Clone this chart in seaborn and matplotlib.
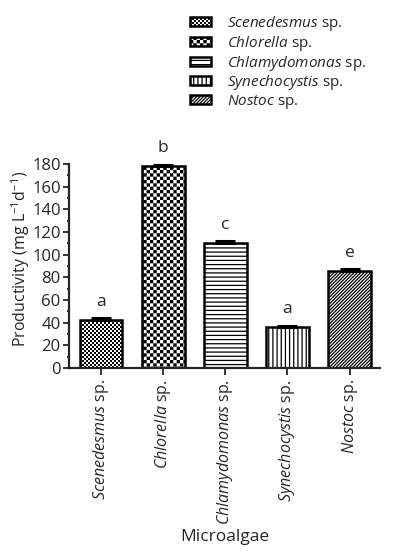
import numpy as np
import pandas as pd
import matplotlib
matplotlib.use("Agg")
import matplotlib as mpl
import matplotlib.pyplot as plt
import matplotlib.patches as mpatches
import matplotlib.hatch as mhatch
from matplotlib.path import Path
import seaborn as sns

# ---------------- data ----------------
species = ["Scenedesmus", "Chlorella", "Chlamydomonas", "Synechocystis", "Nostoc"]
productivity = [42.5, 178.5, 110.0, 36.0, 86.0]
errors = [1.5, 1.0, 1.8, 1.5, 1.2]
letters = ["a", "b", "c", "a", "e"]
hatches = ["o", "O", "----", "||||", "//////////"]

# ------------- custom checkerboard hatch -------------
class Checker(mhatch.HatchPatternBase):
    def __init__(self, hatch, density):
        self.n = 0
        if "o" in hatch:
            self.n = 50
        elif "O" in hatch:
            self.n = 30
        self.num_vertices = (self.n * self.n // 2) * 5 if self.n else 0

    def set_vertices_and_codes(self, vertices, codes):
        n = self.n
        s = 1.0 / n
        sh = mpl.rcParams["hatch.linewidth"] / 72.0 / 2.0
        verts = []
        for i in range(n):
            for j in range(n):
                if (i + j) % 2 == 0:
                    x0, y0 = i * s + sh, j * s + sh
                    x1, y1 = (i + 1) * s - sh, (j + 1) * s - sh
                    verts += [(x0, y0), (x1, y0), (x1, y1), (x0, y1), (x0, y0)]
        vertices[:] = np.array(verts)
        codes[:] = [Path.MOVETO, Path.LINETO, Path.LINETO, Path.LINETO,
                    Path.CLOSEPOLY] * (n * n // 2)

mhatch._hatch_types = [c for c in mhatch._hatch_types
                       if c not in (mhatch.SmallCircles, mhatch.LargeCircles,
                                    mhatch.SmallFilledCircles, mhatch.Stars)] + [Checker]

# ---------------- style ----------------
sns.set_style("ticks")
FONT = "Open Sans"
plt.rcParams["font.family"] = [FONT, "DejaVu Sans"]
plt.rcParams["mathtext.fontset"] = "custom"
plt.rcParams["mathtext.rm"] = FONT
plt.rcParams["mathtext.it"] = FONT + ":italic"
plt.rcParams["hatch.linewidth"] = 0.9

def lab(name):
    return r"$\it{" + name + r"}$ sp."

df = pd.DataFrame({"species": species, "productivity": productivity})

fig = plt.figure(figsize=(3.94, 5.55), dpi=100)
ax = fig.add_axes([69 / 394, 187 / 555, 311 / 394, 204 / 555])

sns.barplot(data=df, x="species", y="productivity", color="white",
            saturation=1, edgecolor="black", linewidth=1.8, width=0.69,
            errorbar=None, ax=ax, zorder=2)

for bar, h in zip(ax.patches, hatches):
    bar.set_hatch(h)

for bar, err, letter in zip(ax.patches, errors, letters):
    xc = bar.get_x() + bar.get_width() / 2
    top = bar.get_height()
    ax.errorbar(xc, top, yerr=[[0], [err]], fmt="none", ecolor="black",
                elinewidth=1.5, capsize=7.5, capthick=2.2, zorder=3,
                clip_on=False)
    ax.text(xc, top + err + 11, letter, ha="center", va="baseline",
            fontsize=12.5)

ax.set_xlim(-0.515, 4.49)
ax.set_ylim(0, 180)
ax.set_yticks(np.arange(0, 181, 20))
ax.set_yticks(np.arange(10, 180, 20), minor=True)
ax.tick_params(axis="y", which="major", length=4, width=1.3, labelsize=12, pad=2)
ax.tick_params(axis="y", which="minor", length=1.8, width=1.3)
ax.tick_params(axis="x", which="major", length=5, width=1.3, labelsize=11.5, pad=3)
ax.set_xticks(range(len(species)))
ax.set_xticklabels([lab(s) for s in species], rotation=90)
for sp in ["top", "right"]:
    ax.spines[sp].set_visible(False)
for sp in ["left", "bottom"]:
    ax.spines[sp].set_linewidth(1.6)

ax.set_ylabel(r"Productivity (mg L$^{-1}$d$^{-1}$)", fontsize=11.5)
ax.yaxis.set_label_coords(-0.12, 0.535)
ax.set_xlabel("Microalgae", fontsize=12.5)
ax.xaxis.set_label_coords(0.5, -0.79)

handles = [mpatches.Patch(facecolor="white", edgecolor="black", linewidth=1.8,
                          hatch=h) for h in hatches]
fig.legend(handles, [lab(s) for s in species], loc="upper left",
           bbox_to_anchor=(190 / 394, 1 - 14 / 555), frameon=False,
           fontsize=11, handlelength=1.4, handleheight=0.55,
           handletextpad=1.0, labelspacing=0.05, borderpad=0,
           borderaxespad=0)

fig.savefig("out.png", dpi=100)
